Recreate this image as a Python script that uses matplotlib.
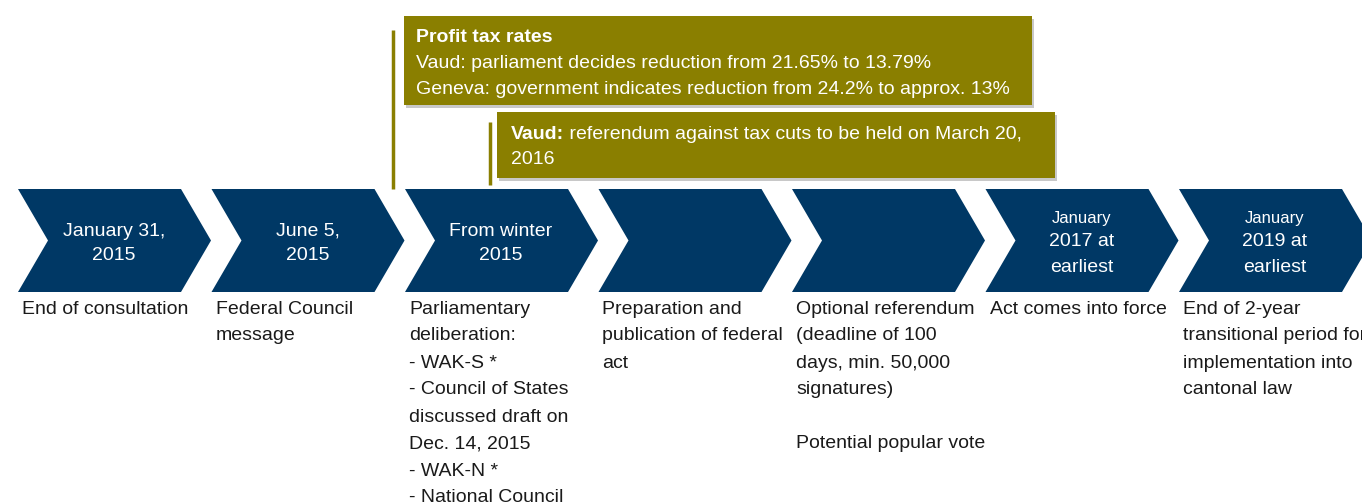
import matplotlib
matplotlib.use('Agg')
import matplotlib.pyplot as plt
from matplotlib.patches import Polygon, Rectangle

# timeline content
dates = [
    ["January 31,", "2015"],
    ["June 5,", "2015"],
    ["From winter", "2015"],
    [],
    [],
    ["January", "2017 at", "earliest"],
    ["January", "2019 at", "earliest"],
]
small_first = [False, False, False, False, False, True, True]

steps = [
    ["End of consultation"],
    ["Federal Council", "message"],
    ["Parliamentary", "deliberation:", "- WAK-S *", "- Council of States",
     "discussed draft on", "Dec. 14, 2015", "- WAK-N *", "- National Council"],
    ["Preparation and", "publication of federal", "act"],
    ["Optional referendum", "(deadline of 100", "days, min. 50,000",
     "signatures)", "", "Potential popular vote"],
    ["Act comes into force"],
    ["End of 2-year", "transitional period for", "implementation into",
     "cantonal law"],
]

box1_title = "Profit tax rates"
box1_lines = ["Vaud: parliament decides reduction from 21.65% to 13.79%",
              "Geneva: government indicates reduction from 24.2% to approx. 13%"]
box2_bold = "Vaud:"
box2_lines = [" referendum against tax cuts to be held on March 20,", "2016"]

NAVY = '#003865'
OLIVE = '#8a7f00'
TXT = '#1a1a1a'
FONT = 'Liberation Sans'

fig = plt.figure(figsize=(13.62, 5.04), dpi=100)
ax = fig.add_axes([0, 0, 1, 1])
ax.set_xlim(0, 1362)
ax.set_ylim(504, 0)
ax.axis('off')

# chevrons
x0, step, w, depth = 18, 193.5, 163, 30
top, bot = 189, 292
mid = (top + bot) / 2
for i in range(len(dates)):
    xs = x0 + i * step
    pts = [(xs, top), (xs + w, top), (xs + w + depth, mid), (xs + w, bot),
           (xs, bot), (xs + depth, mid)]
    ax.add_patch(Polygon(pts, closed=True, facecolor=NAVY, edgecolor='none'))

    lines = dates[i]
    cx = xs + 96
    if len(lines) == 2:
        ys = [231, 256]
    else:
        ys = [218, 242, 268]
    for k, ln in enumerate(lines):
        fs = 12 if (small_first[i] and k == 0) else 14
        ax.text(cx, ys[k], ln, color='white', fontsize=fs, family=FONT,
                ha='center', va='center')

    for k, ln in enumerate(steps[i]):
        ax.text(xs + 4, 309 + 27 * k, ln, color=TXT, fontsize=14, family=FONT,
                ha='left', va='center')

# callout boxes with shadow
def box(x, y, w, h):
    ax.add_patch(Rectangle((x + 2, y + 3), w, h, facecolor='#c8c8c8',
                           edgecolor='none', zorder=1))
    ax.add_patch(Rectangle((x, y), w, h, facecolor=OLIVE, edgecolor='none',
                           zorder=2))

box(404, 16, 628, 89)
box(497, 112, 558, 66)
ax.plot([393, 393], [30, 189], color=OLIVE, lw=2.5, solid_capstyle='butt')
ax.plot([490, 490], [122, 185], color=OLIVE, lw=2.5, solid_capstyle='butt')

ax.text(416, 38, box1_title, color='white', fontsize=14, family=FONT,
        weight='bold', ha='left', va='center', zorder=3)
for k, ln in enumerate(box1_lines):
    ax.text(416, 63 + 26 * k, ln, color='white', fontsize=14, family=FONT,
            ha='left', va='center', zorder=3)

t_bold = ax.text(511, 139, box2_bold, color='white', fontsize=14, family=FONT,
                 weight='bold', ha='left', va='baseline', zorder=3)
fig.canvas.draw()
bb = t_bold.get_window_extent()
ax.annotate(box2_lines[0], xy=(511, 139), xytext=(bb.width, 0),
            textcoords='offset pixels', color='white', fontsize=14,
            family=FONT, ha='left', va='baseline', zorder=3)
ax.text(511, 159, box2_lines[1], color='white', fontsize=14, family=FONT,
        ha='left', va='center', zorder=3)

fig.savefig('out.png', dpi=100)
